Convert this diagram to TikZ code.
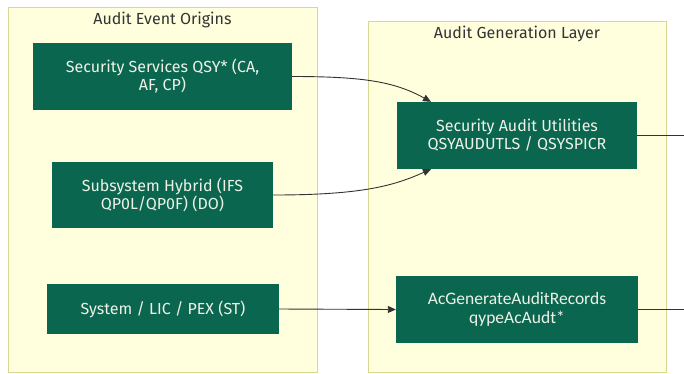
\documentclass[tikz,border=0pt]{standalone}
\usepackage{fontspec}
\setmainfont{Fira Sans}
\newfontfamily\calfont{Carlito}
\usetikzlibrary{arrows.meta}
\definecolor{nodefill}{HTML}{0B6650}
\definecolor{clfill}{HTML}{FFFFDE}
\definecolor{clline}{HTML}{D8D890}
\definecolor{edgec}{HTML}{333333}
\definecolor{txtc}{HTML}{333333}
\definecolor{ntext}{HTML}{EEF2E6}
\tikzset{
  cluster/.style={draw=clline, fill=clfill, line width=1pt},
  proc/.style={fill=nodefill, text=ntext, align=center, inner sep=0pt, font=\fontsize{16}{18}\selectfont},
  title/.style={text=txtc, font=\fontsize{16}{18}\selectfont, anchor=center},
  link/.style={draw=edgec, line width=0.9pt},
  arr/.style={link, -{Triangle[length=8pt,width=7pt]}}
}
\begin{document}
\begin{tikzpicture}[x=1pt,y=-1pt]
\useasboundingbox (0,0) rectangle (684,373);
\fill[white] (0,0) rectangle (684,373);
% clusters
\draw[cluster] (8,7) rectangle (317,372);
\node[title] (t1) at (162.5,20) {Audit Event Origins};
\draw[cluster] (368,21) rectangle (666,372);
\node[title] (t2) at (517,34) {Audit Generation Layer};
% nodes
\node[proc, minimum width=259pt, minimum height=67pt] (ss) at (162.5,76.5) {Security Services QSY* (CA,\\AF, CP)};
\node[proc, minimum width=221pt, minimum height=66pt] (sh) at (162.5,195) {Subsystem Hybrid (IFS\\QP0L/QP0F) (DO)};
\node[proc, minimum width=232pt, minimum height=50pt] (sy) at (163,309) {System / LIC / PEX (ST)};
\node[proc, minimum width=240pt, minimum height=67pt] (sau) at (517,135.5) {Security Audit Utilities\\QSYAUDUTLS / QSYSPICR};
\node[proc, minimum width=242pt, minimum height=67pt, font=\calfont\fontsize{17.5}{19}\selectfont] (acg) at (517,309.5) {AcGenerateAuditRecords\\qypeAcAudt*};
% free ends
\coordinate (o1) at (684,135.5);
\coordinate (o2) at (684,309.5);
% edges
\draw[arr] (ss.east) .. controls (365,76.5) and (395,82) .. (sau.north west -| 431,0) ;
\draw[arr] (sh.east) .. controls (365,195) and (395,185) .. (sau.south west -| 431,0);
\draw[arr] (sy.east) -- (acg.west);
\draw[link] (sau.east) -- (o1);
\draw[link] (acg.east) -- (o2);
\end{tikzpicture}
\end{document}
